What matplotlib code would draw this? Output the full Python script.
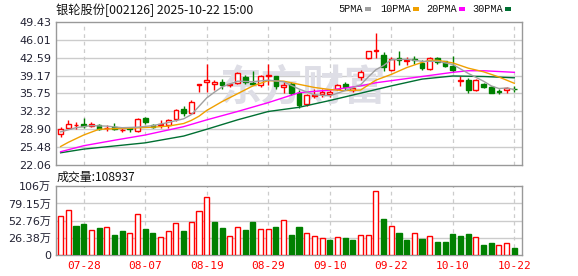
import matplotlib
matplotlib.use('Agg')
import matplotlib.pyplot as plt
from matplotlib.patches import Rectangle

plt.rcParams['font.family'] = ['DejaVu Sans', 'Noto Sans CJK SC']

W, H = 578, 276

# daily data, 2025-07-23 .. 2025-10-22
dates = ['07-23', '07-24', '07-25', '07-28', '07-29', '07-30', '07-31', '08-01',
         '08-04', '08-05', '08-06', '08-07', '08-08', '08-11', '08-12', '08-13',
         '08-14', '08-15', '08-18', '08-19', '08-20', '08-21', '08-22', '08-25',
         '08-26', '08-27', '08-28', '08-29', '09-01', '09-02', '09-03', '09-04',
         '09-05', '09-08', '09-09', '09-10', '09-11', '09-12', '09-15', '09-16',
         '09-17', '09-18', '09-19', '09-22', '09-23', '09-24', '09-25', '09-26',
         '09-29', '09-30', '10-09', '10-10', '10-13', '10-14', '10-15', '10-16',
         '10-17', '10-20', '10-21', '10-22']
label_dates = ['07-28', '08-07', '08-19', '08-29', '09-10', '09-22', '10-10', '10-22']

opens = [28.0, 29.2, 29.7, 30.0, 29.6, 29.8, 29.1, 29.3, 28.7, 29.2,
         28.6, 31.0, 29.8, 29.7, 29.7, 30.8, 32.8, 32.0, 37.3, 38.0,
         37.5, 37.9, 37.3, 37.8, 38.9, 37.8, 37.3, 39.0, 39.0, 36.9,
         37.5, 35.8, 33.8, 35.3, 35.6, 35.6, 36.7, 37.5, 36.4, 38.9,
         42.6, 43.9, 43.1, 40.3, 42.6, 42.0, 42.3, 41.5, 40.4, 42.5,
         41.9, 41.1, 38.2, 38.4, 36.5, 37.6, 37.0, 36.2, 36.4, 36.7]
closes = [28.9, 29.9, 29.8, 29.6, 30.0, 28.9, 29.2, 29.0, 28.8, 28.9,
          30.8, 30.2, 29.4, 30.0, 30.6, 32.5, 32.0, 34.1, 37.5, 38.3,
          37.9, 37.3, 37.5, 39.7, 38.0, 37.5, 39.0, 39.2, 37.1, 37.3,
          35.9, 33.5, 35.4, 35.4, 36.1, 36.0, 37.3, 36.9, 36.8, 39.9,
          43.8, 44.1, 40.9, 42.4, 42.2, 42.1, 42.2, 40.6, 42.6, 41.8,
          41.1, 40.2, 38.3, 36.4, 38.4, 37.0, 35.8, 36.1, 36.8, 36.6]
highs = [29.3, 30.6, 30.2, 31.0, 30.3, 30.0, 29.8, 30.1, 29.1, 29.4,
         31.0, 31.3, 30.0, 30.6, 30.8, 32.8, 33.4, 34.5, 37.6, 41.4,
         38.4, 38.6, 37.8, 39.9, 39.2, 40.0, 39.2, 41.3, 39.1, 38.0,
         37.9, 36.4, 35.6, 36.7, 36.6, 36.4, 37.5, 37.9, 37.0, 40.2,
         43.9, 47.3, 43.6, 42.7, 43.9, 42.7, 43.0, 42.2, 42.8, 42.7,
         42.0, 43.0, 39.1, 38.7, 38.6, 37.8, 37.2, 36.6, 37.0, 37.1]
lows = [27.5, 29.1, 28.9, 29.2, 29.4, 28.7, 28.6, 28.7, 28.4, 28.4,
        28.4, 29.9, 29.2, 29.2, 29.2, 30.5, 31.4, 31.8, 36.1, 36.1,
        36.5, 36.7, 36.9, 37.5, 37.6, 37.4, 36.9, 37.3, 36.6, 35.8,
        35.5, 32.9, 33.3, 34.8, 35.1, 35.1, 36.4, 36.5, 36.0, 38.3,
        42.4, 42.5, 40.0, 40.1, 41.2, 41.2, 41.3, 40.2, 40.2, 41.4,
        40.9, 39.8, 37.2, 35.9, 36.3, 36.8, 35.8, 35.7, 35.8, 36.0]

# volume in 万 (10k) hands
volume = [59.4, 68.6, 44.5, 47.6, 37.9, 41.5, 42.5, 30.7, 36.9, 33.8,
          63.0, 40.0, 34.3, 27.1, 36.4, 49.2, 36.9, 50.7, 67.1, 89.1,
          50.7, 41.5, 28.7, 42.5, 38.4, 50.7, 39.4, 39.4, 43.0, 53.3,
          30.7, 43.0, 33.8, 28.7, 25.6, 23.0, 27.1, 26.1, 23.0, 30.2,
          30.2, 97.8, 55.3, 44.0, 33.8, 23.0, 33.3, 24.6, 28.7, 20.0,
          20.0, 32.3, 29.2, 32.3, 27.1, 15.4, 18.4, 14.9, 17.9, 10.9]
vol_up = [1, 1, 0, 0, 1, 0, 1, 0, 0, 1, 1, 0, 0, 1, 1, 1, 0, 1, 1, 1,
          0, 0, 1, 1, 0, 0, 1, 1, 0, 1, 0, 0, 1, 1, 1, 0, 1, 0, 0, 1,
          1, 1, 0, 1, 0, 0, 1, 0, 1, 0, 0, 0, 0, 0, 1, 0, 0, 1, 1, 0]

# moving averages
ma5_idx = [0, 2, 4, 6, 8, 10, 12, 14, 16, 17, 18, 19, 20, 21, 23, 25, 27, 29, 31,
           33, 35, 37, 39, 40, 41, 42, 43, 45, 47, 49, 51, 53, 55, 56, 57, 58, 59]
ma5_val = [28.4, 29.2, 29.6, 29.5, 29.2, 29.3, 29.6, 30.2, 30.9, 31.7, 33.3, 34.9,
           36.0, 37.0, 38.1, 38.0, 38.3, 38.0, 36.6, 35.5, 35.3, 36.3, 37.4, 38.9,
           40.3, 41.1, 42.2, 42.3, 41.9, 41.9, 41.3, 39.6, 38.1, 37.2, 36.7, 36.8, 36.5]
ma10_idx = [0, 1, 3, 5, 7, 9, 12, 14, 16, 17, 18, 19, 21, 23, 25, 27, 29, 31, 33,
            35, 37, 39, 41, 43, 45, 47, 48, 49, 51, 53, 55, 57, 59]
ma10_val = [25.6, 26.4, 27.8, 28.9, 29.0, 29.1, 29.3, 29.5, 30.0, 30.6, 31.4, 32.5,
            34.2, 35.7, 37.2, 38.2, 38.1, 37.5, 36.9, 36.5, 36.3, 36.4, 38.3, 39.4,
            40.7, 41.7, 42.1, 42.1, 41.6, 40.6, 39.9, 38.9, 37.7]
ma20_idx = [0, 3, 7, 11, 16, 19, 23, 27, 31, 35, 39, 41, 43, 47, 51, 53, 55, 59]
ma20_val = [24.6, 25.75, 26.8, 27.8, 29.4, 30.7, 32.3, 34.0, 35.9, 36.4, 37.2,
            37.8, 38.2, 39.0, 39.8, 40.1, 40.1, 39.8]
ma30_idx = [0, 3, 7, 11, 16, 19, 23, 27, 31, 35, 39, 41, 43, 47, 51, 55, 59]
ma30_val = [24.4, 25.1, 25.7, 26.3, 27.6, 28.9, 30.7, 32.3, 33.1, 34.4, 35.8,
            36.5, 37.2, 38.5, 39.1, 39.0, 38.75]

price_ticks = [22.06, 25.48, 28.90, 32.32, 35.75, 39.17, 42.59, 46.01, 49.43]
vol_ticks = [0, 26.38, 52.76, 79.15, 106]
vol_labels = ['0', '26.38万', '52.76万', '79.15万', '106万']

RED = '#ff0000'
GREEN = '#008000'
GRID = '#cccccc'
FRAME = '#999999'

fig = plt.figure(figsize=(W / 100, H / 100), dpi=100)
fig.patch.set_facecolor('white')


def px_axes(left, top, right, bottom):
    return fig.add_axes([left / W, 1 - bottom / H, (right - left) / W, (bottom - top) / H])


ax = px_axes(56, 22, 522, 165)
axv = px_axes(56, 186, 522, 255)

n = len(closes)
xs = list(range(n))
tick_pos = [dates.index(d) for d in label_dates]

for a in (ax, axv):
    a.set_xlim(-0.6, n)
    for s in a.spines.values():
        s.set_color(FRAME)
        s.set_linewidth(1)
    a.tick_params(length=0)
    a.set_xticks(tick_pos)
    for t in tick_pos:
        a.axvline(t, color=GRID, lw=0.9, ls=(0, (3, 3)), zorder=0.6)

# price panel
ax.set_ylim(price_ticks[0], price_ticks[-1])
ax.set_yticks(price_ticks)
ax.set_yticklabels(['%.2f' % v for v in price_ticks], fontsize=8, color='#222233')
ax.set_xticklabels([])
for v in price_ticks[1:-1]:
    ax.axhline(v, color=GRID, lw=1, zorder=0.5)

ax.text(0.53, 0.54, '东方财富', transform=ax.transAxes, ha='center', va='center',
        fontsize=30, fontweight='bold', color='#dedee6', family='Noto Sans CJK SC',
        style='italic', zorder=0.7)

for i in xs:
    o, c, h, l = opens[i], closes[i], highs[i], lows[i]
    col = RED if c >= o else GREEN
    ax.vlines(i, l, h, color=col, lw=1, zorder=2)
    body = max(abs(c - o), 0.06)
    ax.bar(i, body, bottom=min(o, c), width=0.62,
           facecolor='white' if c >= o else GREEN, edgecolor=col, lw=1, zorder=3)

ax.plot(ma30_idx, ma30_val, color='#006f32', lw=1, zorder=4)
ax.plot(ma20_idx, ma20_val, color='#ff00ff', lw=1, zorder=4)
ax.plot(ma10_idx, ma10_val, color='#f0a000', lw=1, zorder=4)
ax.plot(ma5_idx, ma5_val, color='#a0a0a0', lw=1, zorder=4)

# volume panel
axv.set_ylim(0, 106)
axv.set_yticks(vol_ticks)
axv.set_yticklabels(vol_labels, fontsize=8, color='#222233')
for v in vol_ticks[1:-1]:
    axv.axhline(v, color=GRID, lw=1, zorder=0.5)
axv.bar(xs, volume, width=0.66,
        color=['white' if u else GREEN for u in vol_up],
        edgecolor=[RED if u else GREEN for u in vol_up], lw=1, zorder=3)
axv.set_xticklabels(label_dates, fontsize=8, color=RED, family='DejaVu Sans Mono')
axv.tick_params(axis='x', pad=4)

# header texts
fig.text(56 / W, 1 - 10 / H, '银轮股份[002126] 2025-10-22 15:00', fontsize=8.8,
         family=['Noto Sans CJK SC', 'DejaVu Sans'], va='center', ha='left', color='#111111')
fig.text(57 / W, 1 - 177.5 / H, '成交量:108937', fontsize=8.6,
         family=['Noto Sans CJK SC', 'DejaVu Sans'], va='center', ha='left', color='#111111')

legend = [('5PMA', 338, 365, '#a0a0a0'), ('10PMA', 380, 413, '#f0a000'),
          ('20PMA', 426, 459, '#ff00ff'), ('30PMA', 472, 505, '#006f32')]
for name, tx, sx, col in legend:
    fig.text(tx / W, 1 - 9 / H, name, fontsize=7.4, family='Liberation Mono',
             va='center', ha='left', color='#111111')
    fig.add_artist(Rectangle((sx / W, 1 - 10.5 / H), 6 / W, 4 / H,
                             transform=fig.transFigure, color=col, lw=0))

fig.savefig('out.png', dpi=100, facecolor='white')
